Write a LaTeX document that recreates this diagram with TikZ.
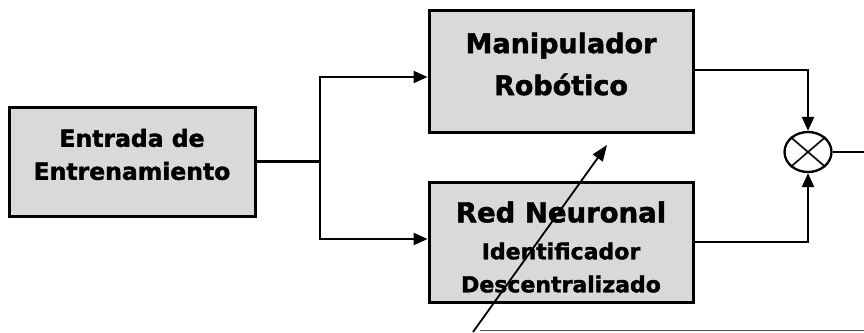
\documentclass[tikz,border=0pt]{standalone}
\usepackage{fontspec}
\setmainfont{DejaVu Sans}
\newfontfamily\gruesa[FakeBold=1.6]{DejaVu Sans Bold}
\usetikzlibrary{arrows.meta,shapes.geometric}
\tikzset{
  caja/.style={draw, line width=3pt, fill=black!15, minimum width=#1, inner sep=0pt},
  texto/.style={align=center, inner sep=0pt},
  flecha/.style={line width=2.3pt, -{Triangle[length=14pt,width=12pt]}},
  linea/.style={line width=2.3pt}
}
\begin{document}
\begin{tikzpicture}[x=1pt,y=-1pt]
    \useasboundingbox (0,0) rectangle (864,332);
    \node [caja=246pt, minimum height=109pt] (entrada) at (132,161.5) {};
    \node [texto, font=\fontsize{23.5}{33}\gruesa] (entradatxt) at (132,154.5)
      {Entrada de\\ Entrenamiento};
    \node [caja=264pt, minimum height=122pt] (robot) at (561,71) {};
    \node [texto, font=\fontsize{27}{42}\gruesa] (robottxt) at (561,64)
      {Manipulador\\ Robótico};
    \node [caja=264pt, minimum height=120pt] (red) at (561,242) {};
    \node [texto, font=\fontsize{22}{33}\gruesa] (redtxt) at (561,247)
      {\fontsize{27.5}{33}\selectfont Red Neuronal\\[4pt]
       Identificador\\
       Descentralizado};
    \node [draw, line width=2.3pt, ellipse, minimum width=47pt, minimum height=40pt, inner sep=0pt] (mult) at (808,152) {};
    \draw [line width=1.6pt] (mult.north east) -- (mult.south west);
    \draw [line width=1.6pt] (mult.north west) -- (mult.south east);
    \coordinate (rama) at (320,161.5);
    \coordinate (salida) at (864,152);
    \coordinate (ajuste) at (473,332);
    \coordinate (ajustefin) at (607,145);
    \draw [linea] (entrada.east) -- (rama);
    \draw [flecha] (rama) |- (robot.west |- 0,77);
    \draw [flecha] (rama) |- (red.west |- 0,239);
    \draw [flecha] (robot.east |- 0,70) -| (mult.north);
    \draw [flecha] (red.east |- 0,242) -| (mult.south);
    \draw [linea] (mult.east) -- (salida);
    \draw [line width=1.8pt, -{Triangle[length=16pt,width=12pt]}] (ajuste) -- (ajustefin);
    \draw [line width=1.4pt, black!70] (480,330.5) -- (864,330.5);
  \end{tikzpicture}
\end{document}
